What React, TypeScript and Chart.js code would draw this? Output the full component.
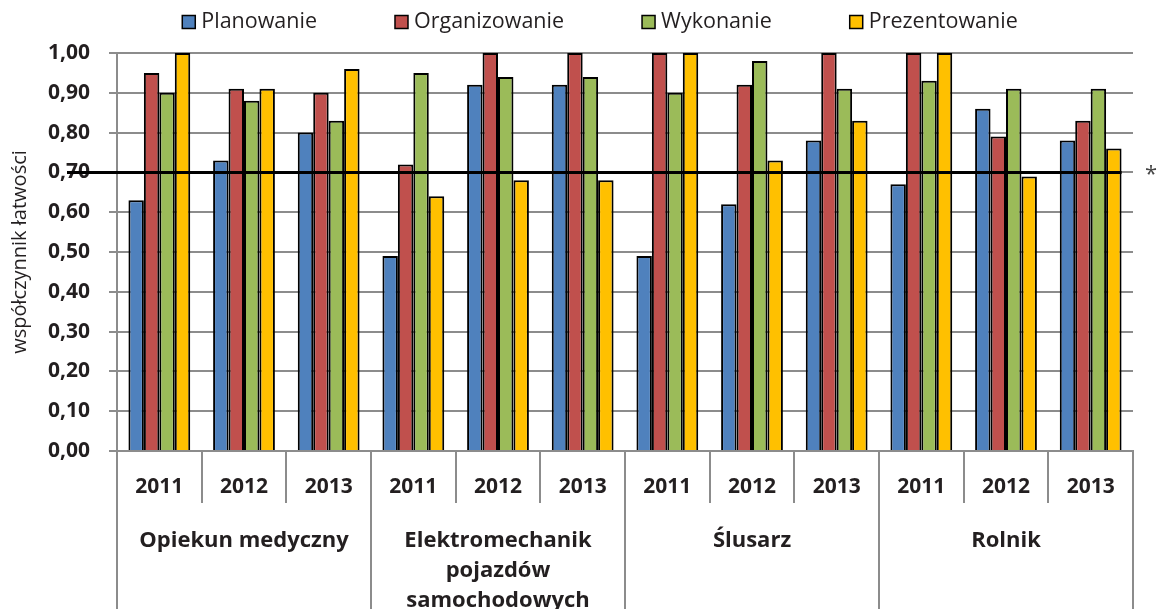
import React, { useEffect, useRef } from "react";
import { Chart, registerables } from "chart.js";

Chart.register(...registerables);

const years = ["2011", "2012", "2013", "2011", "2012", "2013", "2011", "2012", "2013", "2011", "2012", "2013"];
const groups: string[][] = [["Opiekun medyczny"], ["Elektromechanik", "pojazdów", "samochodowych"], ["Ślusarz"], ["Rolnik"]];
const seriesNames = ["Planowanie", "Organizowanie", "Wykonanie", "Prezentowanie"];
const planowanie = [0.63, 0.73, 0.8, 0.49, 0.92, 0.92, 0.49, 0.62, 0.78, 0.67, 0.86, 0.78];
const organizowanie = [0.95, 0.91, 0.9, 0.72, 1.0, 1.0, 1.0, 0.92, 1.0, 1.0, 0.79, 0.83];
const wykonanie = [0.9, 0.88, 0.83, 0.95, 0.94, 0.94, 0.9, 0.98, 0.91, 0.93, 0.91, 0.91];
const prezentowanie = [1.0, 0.91, 0.96, 0.64, 0.68, 0.68, 1.0, 0.73, 0.83, 1.0, 0.69, 0.76];
const colors = ["#4F81BD", "#C0504D", "#9BBB59", "#FFC000"];
const threshold = 0.7;
const yTitle = "współczynnik łatwości";

const FONT = "'Open Sans', sans-serif";
const TEXT = "#231f20";
const GRID = "#8c8c8c";

const extrasPlugin = {
  id: "extras",
  afterDatasetsDraw(chart: any) {
    const ctx = chart.ctx;
    const y = chart.scales.y;
    const yy = y.getPixelForValue(threshold);
    const meta = chart.getDatasetMeta(chart.data.datasets.length - 1);
    const last = meta.data[meta.data.length - 1] as any;
    const right = last.x + last.width / 2;
    ctx.save();
    ctx.strokeStyle = "#000";
    ctx.lineWidth = 3;
    ctx.beginPath();
    ctx.moveTo(chart.chartArea.left - 50, yy);
    ctx.lineTo(right, yy);
    ctx.stroke();
    ctx.restore();
  },
  afterDraw(chart: any) {
    const ctx = chart.ctx;
    const x = chart.scales.x;
    const area = chart.chartArea;
    const half = (x.getPixelForValue(1) - x.getPixelForValue(0)) / 2;
    const first = x.getPixelForValue(0) - half;
    const bottom = area.bottom;
    ctx.save();
    ctx.strokeStyle = GRID;
    ctx.lineWidth = 2;
    for (let b = 0; b <= years.length; b++) {
      const xb = Math.round(first + b * 2 * half);
      ctx.beginPath();
      ctx.moveTo(xb, bottom);
      ctx.lineTo(xb, b % 3 === 0 ? chart.height : bottom + 52);
      ctx.stroke();
    }
    // group labels
    ctx.fillStyle = TEXT;
    ctx.font = `bold 22px ${FONT}`;
    ctx.textAlign = "center";
    ctx.textBaseline = "middle";
    groups.forEach((lines, gi) => {
      const cx = first + (gi * 3 + 1.5) * 2 * half;
      lines.forEach((ln, li) => ctx.fillText(ln, cx, bottom + 90 + li * 30));
    });
    // legend
    ctx.font = `21.5px ${FONT}`;
    ctx.textAlign = "left";
    const boxW = 13, boxH = 13, gapT = 6, gapI = 78;
    const widths = seriesNames.map((n) => ctx.measureText(n).width);
    const total = widths.reduce((a, w) => a + boxW + gapT + w, 0) + gapI * (seriesNames.length - 1);
    let lx = 600 - total / 2;
    const ly = 22;
    seriesNames.forEach((n, i) => {
      ctx.fillStyle = colors[i];
      ctx.fillRect(lx, ly - boxH / 2, boxW, boxH);
      ctx.strokeStyle = "#000";
      ctx.lineWidth = 1.5;
      ctx.strokeRect(lx, ly - boxH / 2, boxW, boxH);
      ctx.fillStyle = TEXT;
      ctx.fillText(n, lx + boxW + gapT, ly);
      lx += boxW + gapT + widths[i] + gapI;
    });
    // asterisk
    ctx.font = `22px ${FONT}`;
    ctx.fillStyle = "#444";
    ctx.textAlign = "center";
    ctx.fillText("*", area.right + 18, chart.scales.y.getPixelForValue(threshold) + 2);
    ctx.restore();
  },
};

export default function App() {
  const ref = useRef<HTMLCanvasElement>(null);
  useEffect(() => {
    document.body.style.margin = "0";
    const data = [planowanie, organizowanie, wykonanie, prezentowanie];
    const chart = new Chart(ref.current!, {
      type: "bar",
      data: {
        labels: years,
        datasets: seriesNames.map((name, i) => ({
          label: name,
          data: data[i],
          backgroundColor: colors[i],
          borderColor: "#000",
          borderWidth: 2,
          categoryPercentage: 0.73,
          barPercentage: 1,
        })),
      },
      options: {
        animation: false,
        responsive: true,
        maintainAspectRatio: false,
        layout: { padding: { top: 53, right: 27, left: 0, bottom: 0 } },
        plugins: { legend: { display: false }, tooltip: { enabled: false } },
        scales: {
          x: {
            offset: true,
            grid: { display: false, drawTicks: false },
            border: { display: true, color: GRID, width: 2 },
            ticks: { font: { family: FONT, size: 21, weight: "bold" }, color: TEXT, padding: 23, maxRotation: 0, autoSkip: false },
            afterFit: (s: any) => { s.height = 158; },
          },
          y: {
            min: 0,
            max: 1,
            grid: { color: GRID, lineWidth: 2, tickLength: 8, drawTicks: true },
            border: { display: true, color: GRID, width: 2 },
            ticks: {
              stepSize: 0.1,
              padding: 19,
              font: { family: FONT, size: 21, weight: "bold" },
              color: TEXT,
              callback: (v: any) => Number(v).toFixed(2).replace(".", ","),
            },
            title: { display: true, text: yTitle, font: { family: FONT, size: 20 }, color: TEXT, padding: { top: 8, bottom: 0 } },
            afterFit: (s: any) => { s.width = 117; },
          },
        },
      },
      plugins: [extrasPlugin],
    });
    return () => chart.destroy();
  }, []);
  return (
    <div style={{ position: "absolute", left: 0, top: 0, width: 1160, height: 609 }}>
      <canvas ref={ref} />
    </div>
  );
}
